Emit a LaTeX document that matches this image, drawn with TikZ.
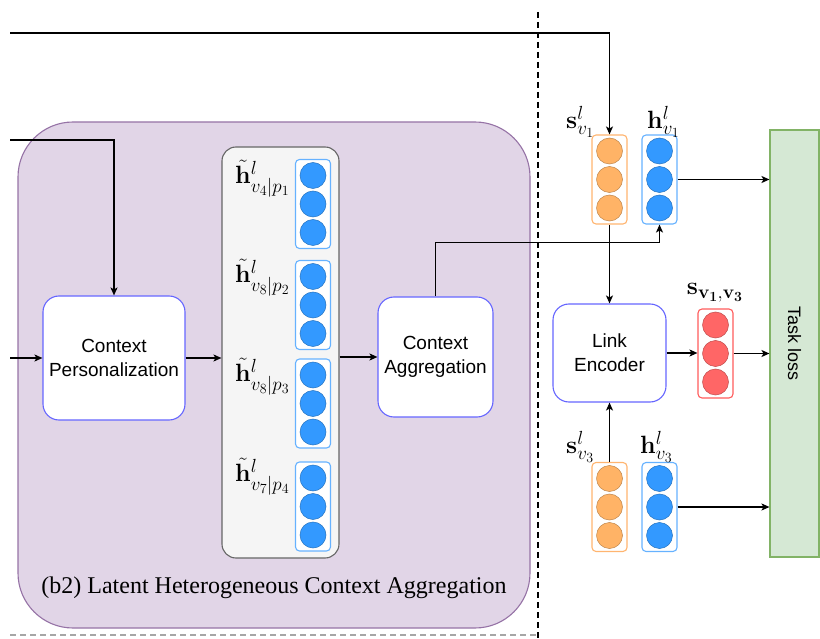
\RequirePackage{fix-cm}
\documentclass[tikz,border=0pt]{standalone}
\usepackage{amsmath}
\usepackage[no-math]{fontspec}
\setmainfont{Liberation Serif}
\setsansfont{Liberation Sans}
\usetikzlibrary{arrows.meta,calc}
\DeclareMathSizes{25}{25}{19}{14}

\definecolor{dotblue}{HTML}{3399FF}
\definecolor{boxblue}{HTML}{66B2FF}
\definecolor{dotorange}{HTML}{FFB366}
\definecolor{boxorange}{HTML}{FFB570}
\definecolor{dotred}{HTML}{FF6666}
\definecolor{boxred}{HTML}{FF5C5C}
\definecolor{panelfill}{HTML}{F5F5F5}
\definecolor{panelline}{HTML}{666666}
\definecolor{purplefill}{HTML}{E1D5E7}
\definecolor{purpleline}{HTML}{9673A6}
\definecolor{greenfill}{HTML}{D5E8D4}
\definecolor{greenline}{HTML}{82B366}
\definecolor{procline}{HTML}{6666FF}

\tikzset{
  arr/.style={-{Stealth[length=8pt,width=7pt,inset=2pt]}, line width=1.4pt},
  proc/.style={draw=procline, fill=white, line width=1.1pt, rounded corners=16pt,
    align=center, font=\sffamily\fontsize{19}{24}\selectfont},
  vbox/.style={rounded corners=4pt, line width=1.1pt, fill=white,
    minimum width=35pt, minimum height=89pt, inner sep=0pt},
  vdot/.style={circle, minimum size=26pt, inner sep=0pt, line width=0.5pt},
  mlabel/.style={inner sep=0pt, font=\fontsize{25}{30}\selectfont},
}

% a column of three dots in a rounded frame: name, x, y, dot colour, frame colour
\newcommand\VecCol[5]{%
  \node[vbox, draw=#5] (#1) at (#2,#3) {};
  \foreach \k in {-1,0,1}
    \node[vdot, fill=#4, draw=#4!75!black] at ($(#1.center)+(0,\k*28.5)$) {};
}

\begin{document}
\begin{tikzpicture}[x=1pt,y=-1pt]
\useasboundingbox (0,0) rectangle (820,639);

% separators
\draw[black, line width=1.2pt, dash pattern=on 6pt off 4pt] (538,12) -- (538,639);
\draw[black!35, line width=1.2pt, dash pattern=on 6pt off 4pt] (10,635) -- (538,635);

% latent heterogeneous context aggregation block
\node[draw=purpleline, fill=purplefill, line width=1.1pt, rounded corners=55pt,
      minimum width=512pt, minimum height=506pt, inner sep=0pt] (group) at (274,375) {};
\node[font=\fontsize{24}{28}\selectfont] (caption) at (274,588)
  {(b2) Latent Heterogeneous Context Aggregation};

\node[proc, minimum width=142pt, minimum height=124pt] (cp) at (114,358)
  {Context\\Personalization};
\node[draw=panelline, fill=panelfill, line width=1.1pt, rounded corners=14pt,
      minimum width=117pt, minimum height=411pt, inner sep=0pt] (panel) at (280.5,352.5) {};
\node[proc, minimum width=115pt, minimum height=120pt] (ca) at (435.5,357)
  {Context\\Aggregation};

\VecCol{p1}{313}{204}{dotblue}{boxblue}
\VecCol{p2}{313}{305}{dotblue}{boxblue}
\VecCol{p3}{313}{403.5}{dotblue}{boxblue}
\VecCol{p4}{313}{506.5}{dotblue}{boxblue}
\node[mlabel, anchor=west] (lp1) at (235,179) {$\tilde{\mathbf{h}}^{l}_{v_4|p_1}$};
\node[mlabel, anchor=west] (lp2) at (235,278) {$\tilde{\mathbf{h}}^{l}_{v_8|p_2}$};
\node[mlabel, anchor=west] (lp3) at (235,377) {$\tilde{\mathbf{h}}^{l}_{v_8|p_3}$};
\node[mlabel, anchor=west] (lp4) at (235,477) {$\tilde{\mathbf{h}}^{l}_{v_7|p_4}$};

% link prediction side
\VecCol{sv1}{609.5}{179.5}{dotorange}{boxorange}
\VecCol{hv1}{659.5}{179.5}{dotblue}{boxblue}
\VecCol{sv3}{609.5}{507}{dotorange}{boxorange}
\VecCol{hv3}{659.5}{507}{dotblue}{boxblue}
\VecCol{sl}{715.5}{353.5}{dotred}{boxred}
\node[mlabel, anchor=west] (lsv1) at (566,122) {$\mathbf{s}^{l}_{v_1}$};
\node[mlabel, anchor=west] (lhv1) at (647,122) {$\mathbf{h}^{l}_{v_1}$};
\node[mlabel, anchor=west] (lsv3) at (566,447) {$\mathbf{s}^{l}_{v_3}$};
\node[mlabel, anchor=west] (lhv3) at (640,447) {$\mathbf{h}^{l}_{v_3}$};
\node[mlabel] (lsl) at (715,293) {$\mathbf{s}_{\mathbf{v_1},\mathbf{v_3}}$};

\node[proc, minimum width=113pt, minimum height=98pt] (le) at (609.5,353)
  {Link\\Encoder};
\node[draw=greenline, fill=greenfill, line width=1.1pt, minimum width=49pt,
      minimum height=427pt, inner sep=0pt] (task) at (794.5,343.5) {};
\node[rotate=-90, font=\sffamily\fontsize{18}{22}\selectfont] (tasktext) at (task.center) {Task loss};

% connectors
\coordinate (in1) at (10,33);
\coordinate (in2) at (10,140);
\coordinate (in3) at (10,358);
\draw[arr] (in1) -| (sv1.north);
\draw[arr] (in2) -| (cp.north);
\draw[arr] (in3) -- (cp.west);
\draw[arr] (cp.east) -- (cp.east -| panel.west);
\draw[arr] (panel.east |- ca.west) -- (ca.west);
\draw[arr] (ca.north) -- ++(0,-54) -| (hv1.south);
\draw[arr] (hv1.east) -- (hv1.east -| task.west);
\draw[arr] (sv1.south) -- (le.north);
\draw[arr] (le.east) -- (le.east -| sl.west);
\draw[arr] (sl.east) -- (sl.east -| task.west);
\draw[arr] (sv3.north) -- (le.south);
\draw[arr] (hv3.east) -- (hv3.east -| task.west);
\end{tikzpicture}
\end{document}
